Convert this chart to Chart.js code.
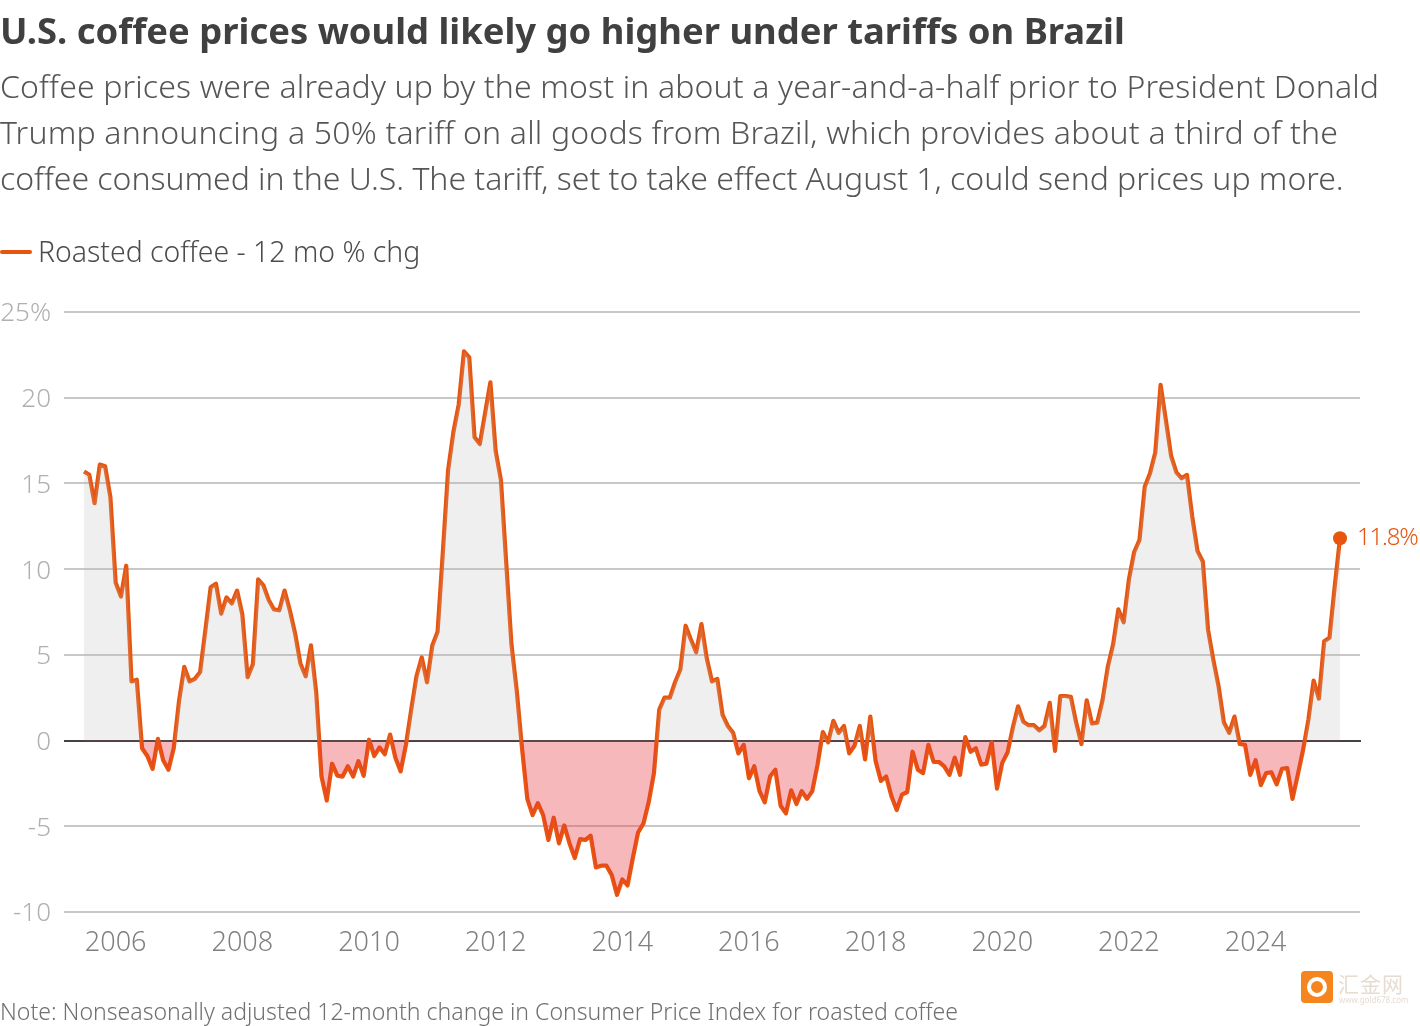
<!DOCTYPE html>
<html lang="en">
<head>
<meta charset="utf-8">
<title>U.S. coffee prices</title>
<script src="https://cdn.jsdelivr.net/npm/chart.js@4/dist/chart.umd.min.js"></script>
<style>
    html, body { margin: 0; padding: 0; background: #fff; }
    body { position: relative; width: 1420px; height: 1026px; overflow: hidden; font-family: "Noto Sans", sans-serif; }
    canvas { position: absolute; left: 0; top: 0; }
    .txt { position: absolute; left: 0; white-space: nowrap; }
    #title { top: 7px; font-size: 36.4px; font-weight: 700; color: #404040; line-height: 46px; }
    .sub { font-size: 32px; font-weight: 300; color: #555; line-height: 46px; }
    #legendLine { position: absolute; left: 0; top: 250px; width: 32px; height: 4px; border-radius: 2px; background: #e8550e; }
    #legendText { left: 38px; top: 231px; font-size: 28.4px; font-weight: 300; color: #4c4c4c; line-height: 40px; }
    #note { top: 995px; font-size: 23.07px; font-weight: 300; color: #707070; line-height: 32px; }
    #markIcon { position: absolute; left: 1301px; top: 971px; width: 32px; height: 32px; border-radius: 4px; background: #f5861f; }
    #markIcon i { position: absolute; left: 6px; top: 6px; width: 12px; height: 12px; border: 4px solid #fff; border-radius: 50%; }
    #markName { left: 1338px; top: 970px; font-family: "Noto Sans CJK SC", sans-serif; font-size: 21px; color: #e6dcd2; line-height: 26px; letter-spacing: 1px; }
    #markUrl { left: 1339px; top: 994px; font-size: 8px; color: #e6dcd2; line-height: 12px; }
</style>
</head>
<body>
<canvas id="chart" width="1420" height="1026"></canvas>
<div id="title" class="txt">U.S. coffee prices would likely go higher under tariffs on Brazil</div>
<div class="txt sub" style="top:63px;letter-spacing:0.14px">Coffee prices were already up by the most in about a year-and-a-half prior to President Donald</div>
<div class="txt sub" style="top:109px;letter-spacing:0.19px">Trump announcing a 50% tariff on all goods from Brazil, which provides about a third of the</div>
<div class="txt sub" style="top:155px;letter-spacing:-0.03px">coffee consumed in the U.S. The tariff, set to take effect August 1, could send prices up more.</div>
<div id="legendLine"></div>
<div id="legendText" class="txt">Roasted coffee - 12 mo % chg</div>
<div id="note" class="txt">Note: Nonseasonally adjusted 12-month change in Consumer Price Index for roasted coffee</div>
<div id="markIcon"><i></i></div>
<div id="markName" class="txt">汇金网</div>
<div id="markUrl" class="txt">www.gold678.com</div>

<script>
const firstMonth = 2005.5; // July 2005

const coffeeChange = [
    15.7, 15.5, 13.85, 16.1, 16.0, 14.2, 9.2, 8.4, 10.2, 3.45, 3.55, -0.45,
    -0.9, -1.65, 0.1, -1.15, -1.7, -0.45, 2.3, 4.3, 3.45, 3.6, 4.0, 6.45,
    8.95, 9.15, 7.4, 8.35, 8.0, 8.75, 7.35, 3.7, 4.45, 9.4, 9.05, 8.2,
    7.65, 7.6, 8.75, 7.6, 6.25, 4.5, 3.75, 5.55, 2.8, -2.1, -3.5, -1.35,
    -2.05, -2.1, -1.5, -2.1, -1.2, -2.05, 0.05, -0.9, -0.4, -0.8, 0.35, -1.0,
    -1.8, -0.25, 1.8, 3.75, 4.85, 3.4, 5.55, 6.35, 11.0, 15.8, 18.0, 19.6,
    22.7, 22.35, 17.7, 17.3, 19.1, 20.9, 16.9, 15.2, 10.4, 5.6, 2.9, -0.45,
    -3.4, -4.35, -3.65, -4.35, -5.8, -4.5, -6.0, -4.95, -6.0, -6.85, -5.75, -5.8,
    -5.55, -7.4, -7.3, -7.3, -7.85, -9.0, -8.1, -8.45, -6.85, -5.35, -4.85, -3.6,
    -1.9, 1.8, 2.5, 2.5, 3.4, 4.15, 6.7, 5.9, 5.15, 6.8, 4.8, 3.45,
    3.6, 1.5, 0.85, 0.45, -0.75, -0.25, -2.2, -1.5, -2.95, -3.6, -2.1, -1.7,
    -3.8, -4.25, -2.9, -3.7, -2.95, -3.4, -2.95, -1.4, 0.5, -0.1, 1.15, 0.45,
    0.85, -0.75, -0.3, 0.85, -1.1, 1.4, -1.2, -2.35, -2.1, -3.25, -4.05, -3.15,
    -3.0, -0.65, -1.7, -1.9, -0.25, -1.25, -1.25, -1.5, -2.0, -1.0, -2.0, 0.2,
    -0.65, -0.45, -1.4, -1.35, -0.1, -2.8, -1.3, -0.7, 0.75, 2.0, 1.1, 0.9,
    0.9, 0.6, 0.85, 2.2, -0.6, 2.6, 2.6, 2.55, 1.05, -0.2, 2.35, 1.0,
    1.05, 2.35, 4.3, 5.6, 7.65, 6.9, 9.4, 11.0, 11.7, 14.8, 15.6, 16.8,
    20.75, 18.7, 16.6, 15.65, 15.3, 15.5, 13.05, 11.05, 10.45, 6.45, 4.7, 3.15,
    1.05, 0.45, 1.4, -0.2, -0.25, -2.0, -1.15, -2.6, -1.9, -1.85, -2.55, -1.65,
    -1.6, -3.4, -2.0, -0.55, 1.2, 3.5, 2.45, 5.8, 6.0, 9.0, 11.8
];

const xTickYears = [2006, 2008, 2010, 2012, 2014, 2016, 2018, 2020, 2022, 2024];
const yTickValues = [-10, -5, 0, 5, 10, 15, 20, 25];
const yTickLabels = ['-10', '-5', '0', '5', '10', '15', '20', '25%'];
const lastLabel = '11.8%';

const orange = '#e8550e';
const lastIndex = coffeeChange.length - 1;
const points = coffeeChange.map((v, i) => ({ x: firstMonth + i / 12, y: v }));

// zero rule sits above the fills but under the orange line
const zeroRule = {
    id: 'zeroRule',
    beforeDatasetDraw(chart, args) {
        if (args.index !== 1) return;
        const { ctx, chartArea, scales } = chart;
        const y = Math.round(scales.y.getPixelForValue(0));
        ctx.save();
        ctx.strokeStyle = '#444';
        ctx.lineWidth = 2;
        ctx.beginPath();
        ctx.moveTo(chartArea.left, y);
        ctx.lineTo(chartArea.right + 1, y);
        ctx.stroke();
        ctx.restore();
    },
};

// value label next to the last point
const endLabel = {
    id: 'endLabel',
    afterDatasetsDraw(chart) {
        const pt = chart.getDatasetMeta(1).data[lastIndex];
        const ctx = chart.ctx;
        ctx.save();
        ctx.fillStyle = orange;
        ctx.font = '300 24px "Noto Sans"';
        ctx.letterSpacing = '-1.2px';
        ctx.textAlign = 'left';
        ctx.textBaseline = 'middle';
        ctx.fillText(lastLabel, pt.x + 17, pt.y);
        ctx.restore();
    },
};

new Chart(document.getElementById('chart'), {
    type: 'line',
    data: {
        datasets: [
            {
                data: points,
                borderWidth: 0,
                pointRadius: 0,
                fill: {
                    target: { value: 0 },
                    above: 'rgba(180, 180, 185, 0.22)',
                    below: 'rgba(232, 52, 61, 0.35)',
                },
            },
            {
                data: points,
                borderColor: orange,
                backgroundColor: orange,
                borderWidth: 4.2,
                borderJoinStyle: 'round',
                tension: 0,
                fill: false,
                clip: false,
                pointBorderWidth: 0,
                pointRadius: (ctx) => (ctx.dataIndex === lastIndex ? 7 : 0),
            },
        ],
    },
    options: {
        responsive: false,
        animation: false,
        devicePixelRatio: 1,
        layout: { padding: { left: 0, right: 60, top: 312, bottom: 0 } },
        plugins: { legend: { display: false }, tooltip: { enabled: false } },
        scales: {
            x: {
                type: 'linear',
                min: 2005.184,
                max: 2025.649,
                grid: { display: false },
                border: { display: false },
                afterBuildTicks: (scale) => {
                    scale.ticks = xTickYears.map((y) => ({ value: y }));
                },
                afterFit: (scale) => {
                    scale.height = 114;
                    scale.paddingLeft = 0;
                    scale.paddingRight = 0;
                },
                ticks: {
                    color: '#808080',
                    font: { family: 'Noto Sans', size: 27, weight: '300' },
                    padding: 7,
                    maxRotation: 0,
                    autoSkip: false,
                    callback: (v) => String(v),
                },
            },
            y: {
                min: -10,
                max: 25,
                grid: { color: '#c8c8c8', lineWidth: 2, drawTicks: false },
                border: { display: false },
                afterBuildTicks: (scale) => {
                    scale.ticks = yTickValues.map((v) => ({ value: v }));
                },
                afterFit: (scale) => {
                    scale.width = 64;
                    scale.paddingTop = 0;
                    scale.paddingBottom = 0;
                },
                ticks: {
                    color: '#b0b0b0',
                    // empty first line + small lineHeight nudges the label down 2px
                    font: { family: 'Noto Sans', size: 26, weight: '300', lineHeight: '4px' },
                    padding: 13,
                    autoSkip: false,
                    callback: (v) => ['', yTickLabels[yTickValues.indexOf(v)]],
                },
            },
        },
    },
    plugins: [zeroRule, endLabel],
});
</script>
</body>
</html>
